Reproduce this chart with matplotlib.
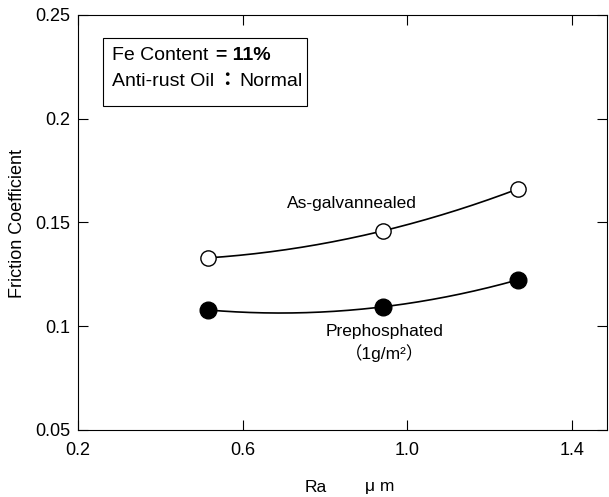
import numpy as np
import matplotlib
matplotlib.use("Agg")
import matplotlib.pyplot as plt

plt.rcParams['font.family'] = ['Liberation Sans', 'Noto Sans CJK JP', 'DejaVu Sans']

# Ra (um) vs friction coefficient
ra = [0.516, 0.940, 1.268]
as_galv = [0.1329, 0.1459, 0.1661]
prephos = [0.1078, 0.1093, 0.1223]

xticks = [0.2, 0.6, 1.0, 1.4]
yticks = [0.05, 0.1, 0.15, 0.2, 0.25]
ytick_labels = ["0.05", "0.1", "0.15", "0.2", "0.25"]

fig = plt.figure(figsize=(6.09, 4.97), dpi=100)
ax = fig.add_axes([0.128, 0.135, 0.869, 0.835])

xs = np.linspace(ra[0], ra[-1], 200)
for y, face, ms in [(as_galv, "white", 11), (prephos, "black", 12)]:
    c = np.polyfit(ra, y, 2)
    ax.plot(xs, np.polyval(c, xs), color="black", lw=1.2, zorder=2)
    ax.plot(ra, y, "o", mfc=face, mec="black", mew=1.0, ms=ms, zorder=3)

ax.set_xlim(0.2, 1.485)
ax.set_ylim(0.05, 0.25)
ax.set_xticks(xticks)
ax.set_xticklabels(["0.2", "0.6", "1.0", "1.4"])
ax.set_yticks(yticks)
ax.set_yticklabels(ytick_labels)
ax.tick_params(direction="in", length=7, width=0.8, labelsize=13,
               top=True, right=True)
ax.tick_params(axis="x", pad=9)
ax.tick_params(axis="y", pad=5.5)
for s in ax.spines.values():
    s.set_linewidth(0.8)

ax.text(0.865, 0.159, "As-galvannealed", ha="center", va="center", fontsize=12.5)
ax.text(0.945, 0.0972, "Prephosphated", ha="center", va="center", fontsize=12.5)
ax.text(0.945, 0.0871, "（1g/m²）", ha="center", va="center", fontsize=12.5)

# condition box
fig.patches.append(plt.Rectangle((103 / 609, 1 - 106 / 497), 204 / 609, 68 / 497,
                                 transform=fig.transFigure, fill=False,
                                 edgecolor="black", lw=0.8))
fig.text(112 / 609, 1 - 56 / 497, "Fe Content", fontsize=14, va="center")
fig.text(216 / 609, 1 - 56 / 497, "= 11%", fontsize=14, va="center",
         fontweight="bold")
fig.text(112 / 609, 1 - 81 / 497, "Anti-rust Oil", fontsize=14, va="center")
fig.text(227 / 609, 1 - 81 / 497, "：", fontsize=14, ha="center", va="center",
         fontweight="bold")
fig.text(239 / 609, 1 - 81 / 497, "Normal", fontsize=14, va="center")

fig.text(18 / 609, 0.55, "Friction Coefficient", rotation=90, ha="center",
         va="center", fontsize=13)
fig.text(316 / 609, 1 - 487 / 497, "Ra", ha="center", va="center", fontsize=12.5)
fig.text(380 / 609, 1 - 487 / 497, "μ m", ha="center", va="center", fontsize=12.5)

fig.savefig("out.png", dpi=100)
